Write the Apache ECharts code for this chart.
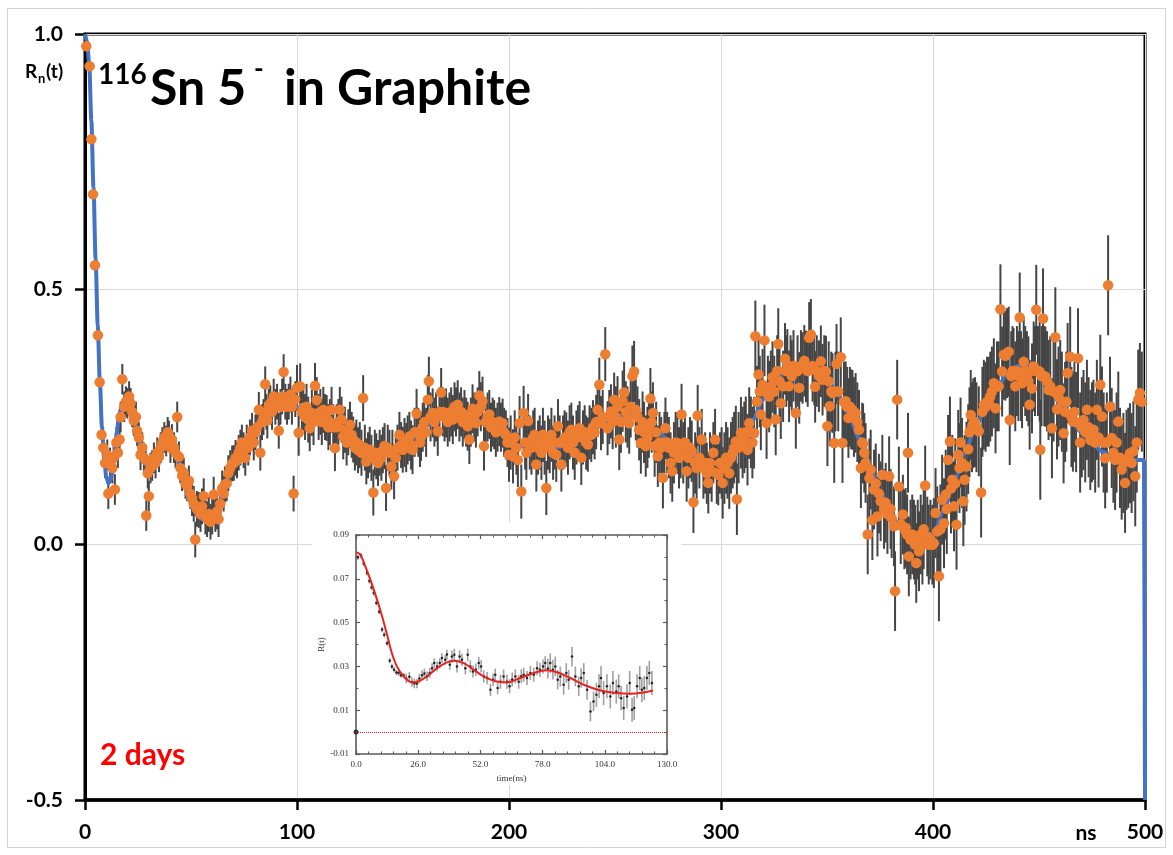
<!DOCTYPE html>
<html>
<head>
<meta charset="utf-8">
<title>116Sn 5- in Graphite</title>
<script src="https://cdn.jsdelivr.net/npm/echarts@6/dist/echarts.min.js"></script>
<style>
html, body { margin: 0; padding: 0; background: #fff; }
#chart { width: 1173px; height: 855px; }
</style>
</head>
<body>
<div id="chart"></div>
<script>
// ---- main plot : Rn(t) vs time (ns) ----
// steep initial drop (no visible error bars)
var rnDrop = [[0.6,0.976],[2.2,0.937],[3.0,0.794],[3.8,0.686],[4.7,0.547],[6.1,0.41],[6.9,0.318],[7.8,0.215],[8.6,0.19]];

var rn0 = [[9.5,0.16],[10.5,0.176],[11,0.10],[11.8,0.16],[12.9,0.15],[13.5,0.17],[14.1,0.108],[14.8,0.2],[15.5,0.18],[16.3,0.206],[16.8,0.25],[17.6,0.324],[18.5,0.27],[19.3,0.28],[20,0.277],[20.8,0.29],[21.5,0.277],[22.3,0.26],[23,0.243],[24,0.25],[24.6,0.223],[25.4,0.21],[26.2,0.176],[27,0.19],[27.8,0.17],[28.6,0.166],[28.9,0.057],[29.6,0.14],[30.1,0.095],[30.9,0.15],[31.7,0.155],[32.5,0.17],[33.3,0.16],[34.1,0.18],[34.9,0.172],[35.7,0.19],[36.5,0.2],[37.4,0.21],[38.3,0.203],[39,0.22],[39.6,0.213],[40.3,0.19],[41,0.206],[42,0.19],[42.7,0.18],[43.5,0.25],[44.3,0.172],[45,0.15],[45.8,0.135],[46.6,0.14],[47.4,0.12],[48.2,0.115],[49,0.125],[49.7,0.1],
  [50.5,0.091],[51.3,0.08],[52,0.01],[52.8,0.07],[53.7,0.068],[54.5,0.06],[55.2,0.075],[56,0.095],[56.8,0.055],[57.6,0.05],[58.4,0.06],[59.2,0.045],[60,0.055],[60.7,0.098],[61.5,0.06],[62.3,0.065],[63,0.05],[63.8,0.08],[64.7,0.11],[65.4,0.1],[66,0.118],[66.8,0.12],[67.6,0.14],[68.5,0.15],[69.4,0.159],[70.2,0.16],[71,0.17],[71.7,0.165],[72.5,0.18],[73.3,0.19],[74,0.2],[74.8,0.185],[75.6,0.17],[76.3,0.2],[77,0.19],[77.8,0.21],[78.8,0.223],[79.6,0.2],[80.4,0.22],[81.2,0.23],[82,0.264],[82.7,0.18],[83.5,0.24],[84.2,0.25],[85,0.314],[85.6,0.26],[86,0.243],[86.7,0.27],[87.4,0.277],[88.2,0.26],[89,0.29],[89.8,0.27],[90.6,0.28],[91.4,0.223],[92.2,0.27],[93,0.29],[93.7,0.338],[94.5,0.28],[95.3,0.27],[96.1,0.28],[96.9,0.294],[97.6,0.27],[98.4,0.10],[99.2,0.285],[100,0.307]];

var rn1 = [[100.8,0.219],[101.5,0.31],[102.3,0.26],[103,0.268],[103.8,0.25],[104.5,0.27],[105.3,0.245],[106,0.228],[107,0.258],[107.8,0.24],[108.5,0.311],[109.3,0.283],[110.2,0.25],[111,0.26],[111.7,0.24],[112.4,0.264],[113.2,0.25],[114,0.248],[114.8,0.23],[115.5,0.24],[116.3,0.264],[117.1,0.23],[117.9,0.189],[118.7,0.23],[119.5,0.24],[120.2,0.264],[121,0.245],[121.8,0.212],[122.6,0.225],[123.4,0.2],[124.2,0.22],[125,0.235],[125.8,0.215],[126.5,0.206],[127.3,0.19],[128,0.2],[128.8,0.185],[129.6,0.195],[130.4,0.18],[131.2,0.287],[132,0.19],[132.7,0.163],[133.5,0.175],[134.3,0.186],[135.1,0.17],[136,0.102],[136.7,0.18],[137.4,0.173],[138.2,0.16],[139,0.18],[139.8,0.17],[140.5,0.185],[141.3,0.193],[142,0.111],[142.8,0.19],[143.6,0.18],[144.5,0.153],[145,0.18],[145.8,0.134],[146.6,0.17],[147.4,0.19],[148.3,0.215],[149.1,0.195],[149.9,0.186],
  [150.7,0.2],[151.5,0.19],[152.2,0.205],[153,0.212],[153.8,0.195],[154.5,0.186],[155.5,0.22],[156.4,0.257],[157.2,0.22],[158,0.2],[158.5,0.212],[159.3,0.23],[160,0.24],[160.9,0.22],[161.7,0.284],[162.2,0.32],[163,0.25],[164,0.258],[164.8,0.24],[165.6,0.25],[166.4,0.222],[167.2,0.26],[168,0.298],[168.8,0.26],[169.6,0.25],[170.3,0.258],[171.1,0.24],[171.9,0.25],[172.7,0.26],[173.5,0.245],[174.3,0.27],[175,0.26],[175.8,0.274],[176.6,0.25],[177.4,0.26],[178.2,0.24],[179,0.255],[179.8,0.24],[180.5,0.232],[181.3,0.206],[182,0.24],[182.8,0.266],[183.6,0.25],[184.4,0.238],[185.2,0.26],[186,0.292],[186.7,0.27],[187.5,0.281],[188.2,0.193],[189,0.24],[189.9,0.25],[190.7,0.255],[191.5,0.23],[192.3,0.24],[193,0.235],[193.8,0.22],[194.6,0.23],[195.4,0.241],[196.2,0.23],[197,0.238],[197.7,0.22],[198.5,0.215],[199.3,0.2],[200,0.176]];

var rn2 = [[200.8,0.2],[201.9,0.173],[202.7,0.21],[203.5,0.19],[204.2,0.166],[205,0.238],[205.8,0.104],[206.9,0.258],[207.6,0.2],[208.2,0.18],[209,0.242],[209.8,0.2],[210.6,0.19],[211.4,0.21],[212.1,0.215],[212.9,0.157],[213.7,0.19],[214.5,0.2],[215.3,0.18],[216,0.215],[216.8,0.19],[217.6,0.111],[218.4,0.2],[219.2,0.193],[220,0.215],[220.8,0.18],[221.5,0.2],[222.3,0.176],[223.1,0.232],[223.9,0.2],[224.7,0.157],[225.5,0.2],[226.2,0.21],[227,0.206],[227.8,0.19],[228.6,0.22],[229.4,0.225],[230.2,0.2],[231,0.18],[231.8,0.21],[232.5,0.22],[233.3,0.228],[234.1,0.17],[234.9,0.21],[235.7,0.22],[236.4,0.2],[237.2,0.196],[238,0.22],[238.8,0.215],[239.6,0.23],[240.4,0.22],[241.1,0.24],[241.8,0.264],[242.6,0.313],[243.4,0.238],[244.2,0.25],[245.4,0.373],[246.5,0.228],[247.3,0.25],[248.1,0.261],[248.9,0.24],[249.6,0.284],
  [250.4,0.25],[251.2,0.27],[252,0.206],[252.8,0.24],[253.6,0.281],[254.3,0.298],[255.1,0.26],[255.9,0.25],[256.7,0.238],[257.4,0.27],[258.2,0.33],[259,0.339],[259.8,0.264],[260.6,0.25],[261.4,0.225],[262.2,0.199],[263,0.24],[263.7,0.22],[264.5,0.193],[265.3,0.21],[266,0.23],[266.7,0.286],[267.3,0.24],[267.9,0.258],[268.7,0.193],[269.4,0.22],[270.2,0.173],[271,0.2],[271.8,0.19],[272.6,0.131],[273.3,0.2],[273.8,0.228],[274.6,0.2],[275.4,0.19],[276.2,0.16],[277,0.144],[277.8,0.18],[278.6,0.2],[279.4,0.199],[280.2,0.17],[281,0.19],[281.4,0.255],[282.2,0.18],[283,0.2],[283.8,0.144],[284.6,0.17],[285.4,0.19],[286.2,0.183],[287,0.083],[287.8,0.16],[288.5,0.15],[289,0.253],[289.8,0.17],[290.9,0.206],[291.7,0.15],[292.5,0.16],[293.3,0.14],[294,0.121],[294.8,0.16],[295.6,0.144],[296.4,0.18],[297.2,0.206],[298,0.14],[298.7,0.137],[299.5,0.16]];

var rn3 = [[300.3,0.16],[300.8,0.121],[301.6,0.15],[302.4,0.17],[303.1,0.16],[303.9,0.14],[304.7,0.17],[305.5,0.18],[306.2,0.19],[307,0.202],[307.5,0.089],[308.3,0.19],[309.4,0.219],[310.2,0.2],[311,0.21],[311.7,0.22],[312.5,0.186],[313.3,0.238],[314.1,0.22],[314.8,0.2],[315.6,0.219],[316.2,0.408],[317,0.28],[317.7,0.333],[318.3,0.3],[318.8,0.255],[319.6,0.313],[320.5,0.40],[321.5,0.238],[322.1,0.3],[322.7,0.29],[323.5,0.31],[324.3,0.328],[325.1,0.3],[325.8,0.245],[326.5,0.34],[327,0.393],[327.6,0.32],[328.2,0.277],[329.3,0.31],[330.2,0.364],[330.8,0.34],[331.3,0.352],[332.1,0.31],[332.8,0.34],[333.4,0.33],[334.2,0.35],[335.3,0.258],[336.1,0.34],[336.9,0.307],[337.7,0.35],[338.5,0.346],[339.3,0.36],[340.1,0.349],[340.9,0.34],[341.6,0.405],[342.4,0.411],[343.2,0.35],[344,0.343],[344.4,0.309],[345.2,0.34],[346.2,0.33],[347.1,0.359],[347.9,0.323],[348.7,0.34],[349.5,0.339],
  [350.2,0.232],[350.8,0.32],[351.3,0.271],[352,0.3],[352.6,0.297],[353.4,0.199],[354,0.3],[354.5,0.354],[355.3,0.3],[356.5,0.367],[357.3,0.199],[358,0.28],[358.8,0.281],[359.5,0.27],[360.1,0.248],[360.8,0.27],[361.4,0.265],[362,0.264],[362.7,0.25],[363.5,0.258],[364.3,0.24],[365.1,0.225],[366,0.15],[366.6,0.2],[367,0.198],[367.6,0.18],[368.2,0.16],[369.2,0.02],[370,0.13],[370.6,0.147],[371.4,0.048],[372.2,0.108],[373,0.12],[373.8,0.055],[374.5,0.1],[375.3,0.085],[376.1,0.137],[376.9,0.07],[377.7,0.082],[378.5,0.06],[379.3,0.134],[380,0.07],[380.5,0.052],[381.6,0.036],[382.1,-0.091],[383.1,0.284],[383.9,0.114],[384.8,0.04],[385.8,0.059],[386.5,0.03],[387.1,0.033],[387.8,0.02],[388.2,0.18],[388.6,-0.023],[389.4,0.01],[390.2,0.02],[391,0.01],[391.6,0.0],[392.1,-0.036],[392.8,0.01],[393.4,-0.013],[394.2,0.02],[395,0.0],[395.6,0.03],[396.3,0.116],[397.3,0.016],[398,0.0],[398.8,0.01],[399.7,0.0]];

var rn4 = [[400.4,0.003],[401.2,0.062],[402,0.026],[402.8,-0.062],[403.5,0.03],[404.3,0.088],[405.2,0.042],[406,0.098],[406.5,0.07],[407.1,0.166],[408,0.202],[408.5,0.11],[409.1,0.127],[409.9,0.075],[410.5,0.12],[411.1,0.039],[411.9,0.176],[412.5,0.15],[413,0.2],[413.7,0.16],[414.3,0.085],[414.9,0.127],[415.8,0.153],[416.6,0.187],[417.2,0.22],[417.8,0.254],[418.4,0.23],[419,0.238],[419.8,0.24],[420.5,0.23],[421.6,0.222],[422.7,0.102],[423.3,0.26],[424,0.274],[424.8,0.27],[425.5,0.28],[426.3,0.28],[427,0.29],[427.8,0.3],[428.7,0.316],[429.5,0.267],[430.2,0.31],[431,0.31],[431.8,0.461],[432.6,0.339],[433.4,0.372],[434.1,0.37],[434.9,0.375],[435.7,0.378],[436.2,0.244],[436.9,0.33],[437.5,0.34],[438,0.336],[438.8,0.31],[439.6,0.34],[440.3,0.33],[440.9,0.445],[441.5,0.33],[442,0.316],[442.8,0.358],[443.5,0.34],[444.3,0.33],[445,0.32],[445.6,0.274],[446.7,0.306],[447.5,0.349],[448.1,0.34],[448.7,0.46],[449.5,0.34],
  [450.3,0.339],[450.6,0.186],[451.2,0.33],[451.9,0.443],[452.5,0.33],[453,0.329],[453.8,0.32],[454.5,0.303],[455.3,0.31],[456.1,0.228],[456.9,0.3],[457.7,0.406],[458.5,0.265],[459.2,0.29],[460,0.303],[460.8,0.28],[461.6,0.218],[462.3,0.26],[462.9,0.28],[463.5,0.336],[464.7,0.368],[465.3,0.25],[466,0.241],[466.7,0.26],[467.5,0.24],[468.4,0.365],[469.4,0.2],[470.2,0.23],[471,0.244],[471.8,0.22],[472.6,0.264],[473.4,0.23],[474.2,0.205],[475,0.22],[475.7,0.225],[476.5,0.2],[477.3,0.264],[478.1,0.21],[478.9,0.313],[479.7,0.251],[480.5,0.2],[481.2,0.169],[482,0.2],[482.6,0.508],[483.5,0.27],[484.3,0.209],[485.1,0.18],[485.9,0.166],[486.6,0.2],[487.4,0.241],[488.2,0.17],[489,0.147],[489.8,0.16],[490.6,0.121],[491.3,0.166],[492.1,0.17],[492.9,0.179],[493.7,0.16],[494.5,0.183],[495.4,0.134],[496.1,0.2],[496.8,0.284],[497.6,0.297],[498.5,0.28]];

// half length of the error bars, one value per 50 ns band
var rnErrBand = [0.03, 0.035, 0.045, 0.048, 0.053, 0.06, 0.07, 0.078, 0.088, 0.098];

// fitted curve (blue)
var rnFit = [[0,1.0],[1,0.985],[2,0.94],[3,0.83],[4,0.70],[5,0.56],[6,0.43],[7,0.32],[8,0.23],[9,0.17],[10,0.135],[11,0.12],[12,0.125],[13,0.145],[14,0.18],[15,0.22],[16,0.25],[17,0.268],[18,0.276],[19.5,0.278],[21,0.27],[23,0.245],[25,0.21],[27,0.175],[29,0.155],[31,0.155],[33,0.165],[35,0.18],[37,0.195],[39,0.205],[41,0.2],[43,0.18],[45,0.15],[47,0.118],[49,0.09],[51,0.07],[53,0.057],[55,0.05],[57,0.048],[59,0.052],[61,0.062],[63,0.078],[65,0.1],[68,0.135],[71,0.165],[74,0.19],[77,0.21],[80,0.23],[83,0.245],[86,0.258],[89,0.268],[92,0.275],[95,0.278],[98,0.276],
  [101,0.268],[105,0.257],[110,0.245],[115,0.235],[120,0.225],[125,0.21],[130,0.195],[135,0.182],[140,0.178],[145,0.183],[150,0.195],[155,0.21],[160,0.23],[165,0.245],[170,0.252],[176,0.255],[181,0.25],[186,0.242],[190,0.232],[195,0.218],[201,0.2],[205,0.193],[210,0.188],[215,0.186],[220,0.187],[225,0.192],[230,0.2],[236,0.213],[241,0.228],[246,0.243],[250,0.25],[255,0.253],[260,0.25],[265,0.238],[270,0.222],[275,0.205],[280,0.19],[285,0.175],[290,0.163],[295,0.158],
  [300,0.16],[305,0.175],[310,0.205],[315,0.245],[320,0.285],[325,0.315],[330,0.337],[335,0.35],[340,0.353],[345,0.345],[350,0.325],[355,0.295],[360,0.258],[365,0.21],[370,0.155],[375,0.105],[380,0.06],[385,0.03],[390,0.012],[395,0.008],[400,0.02],[405,0.065],[410,0.125],[415,0.18],[420,0.23],[425,0.27],[430,0.305],[435,0.335],[440,0.35],[445,0.352],[450,0.338],[455,0.31],[460,0.275],[465,0.245],[470,0.22],[475,0.198],[480,0.182],[485,0.172],[490,0.167],[495,0.166],[499.5,0.166],[500,-0.5]];

// ---- inset : R(t) vs time(ns) ----
var insetData = [[0.8,0.0798],[2.1,0.0806],[3.2,0.077],[4.6,0.0727],[5.6,0.069],[6.5,0.066],[7.4,0.0635],[8.5,0.059],[9.7,0.055],[10.9,0.0468],[11.8,0.0444],[13,0.0406],[14.1,0.0326],[15,0.030],[15.9,0.0285],[16.9,0.0272],[17.8,0.027],[18.8,0.026],[19.9,0.0258],[21,0.0245],[22.3,0.0253],[23.4,0.0229],[24.4,0.0222],[25.5,0.0222],[26.5,0.0245],[27.6,0.026],[28.6,0.0268],[29.7,0.0255],[30.8,0.027],[31.8,0.0292],[32.7,0.0315],[33.9,0.030],[35,0.0315],[35.9,0.0338],[37.3,0.033],[38,0.0354],[39.2,0.0307],[40.1,0.0345],[41.1,0.0353],[42.2,0.030],[43.3,0.0345],[44.3,0.033],[45.7,0.0292],[46.7,0.0353],[47.8,0.030],[48.9,0.0277],[50.1,0.0285],[51.3,0.0315],[52.3,0.030],[53.4,0.0254],[54.8,0.0247],[56.2,0.0193],[57.3,0.0239],[58.2,0.0262],[59.2,0.0201],
  [60.4,0.023],[61.7,0.0254],[63.1,0.023],[64.2,0.0209],[65.3,0.024],[66.6,0.0254],[68,0.023],[69.1,0.0255],[70.1,0.0262],[71.5,0.0247],[72.9,0.027],[74.3,0.0262],[75.7,0.0292],[76.9,0.0285],[78.2,0.030],[79.1,0.0315],[80.2,0.029],[81.2,0.0315],[82.3,0.0285],[83.3,0.030],[84.3,0.0239],[85.4,0.0254],[86.8,0.0216],[87.9,0.027],[88.9,0.0239],[90.3,0.0345],[91.7,0.0254],[93.1,0.0209],[94.1,0.0247],[95.2,0.027],[96.6,0.0193],[98,0.0094],[99.3,0.014],[100.5,0.017],[101.6,0.0209],[102.4,0.0247],[103.5,0.0178],[104.9,0.0209],[106.3,0.0163],[107.4,0.0224],[108.8,0.0185],[109.8,0.0209],[110.8,0.0155],[111.9,0.011],[113.3,0.0163],[114.4,0.0224],[115.4,0.0102],[116.3,0.011],[117.5,0.0209],[118.6,0.0247],[119.5,0.0193],[120.5,0.0201],[121.6,0.0247],[122.6,0.027],[123.7,0.0224]];
// error bar half length, one value per 20 ns band
var insetErrBand = [0.0012, 0.0022, 0.0028, 0.0032, 0.0045, 0.0055, 0.0055];
var insetFit = [[0,0.0822],[1.8,0.081],[3.9,0.0757],[6,0.0696],[8.8,0.0605],[10.9,0.0529],[13,0.0444],[15,0.036],[17.1,0.030],[19.9,0.0255],[23.4,0.0227],[26.2,0.0232],[29.7,0.0254],[33.9,0.0292],[38,0.0318],[40.8,0.0326],[45,0.0315],[49.2,0.0285],[53.4,0.0254],[58.2,0.0232],[63.1,0.0227],[68.7,0.0247],[74.3,0.027],[79.8,0.0282],[84,0.0273],[89.6,0.0247],[95.2,0.0216],[102.1,0.019],[109.1,0.0178],[114.7,0.0175],[120.2,0.0181],[124.1,0.019]];
var insetZero = [[0, 0]];

var mainFont = 'Lato, "Open Sans", sans-serif';
var insetFont = '"Liberation Serif", "DejaVu Serif", serif';

var rnPoints = [].concat(rn0, rn1, rn2, rn3, rn4);
var rnErrors = rnPoints.map(function (p) {
  var e = rnErrBand[Math.min(rnErrBand.length - 1, Math.floor(p[0] / 50))];
  return [p[0], p[1] - e, p[1] + e];
});
var insetErrors = insetData.map(function (p) {
  var e = insetErrBand[Math.floor(p[0] / 20)];
  return [p[0], p[1] - e, p[1] + e];
});

function errorBar(color, width) {
  return function (params, api) {
    var a = api.coord([api.value(0), api.value(1)]);
    var b = api.coord([api.value(0), api.value(2)]);
    return {
      type: 'line',
      shape: { x1: a[0], y1: a[1], x2: b[0], y2: b[1] },
      style: { stroke: color, lineWidth: width }
    };
  };
}

var chart = echarts.init(document.getElementById('chart'));

var insetAxisLine = { show: true, onZero: false, lineStyle: { color: '#5a5a5a', width: 1.6 } };
var insetTick = { show: true, inside: true, length: 4, lineStyle: { color: '#5a5a5a', width: 1.2 } };
var insetMinorX = { show: true, splitNumber: 5, length: 2.5, lineStyle: { color: '#5a5a5a', width: 1 } };
var insetMinorY = { show: true, splitNumber: 2, length: 2.5, lineStyle: { color: '#5a5a5a', width: 1 } };

var option = {
  animation: false,
  backgroundColor: '#fff',
  grid: [
    { left: 85, top: 34, width: 1060, height: 766, show: true, borderColor: '#000', borderWidth: 3 },
    { left: 356, top: 535, width: 311, height: 219, z: 60 }
  ],
  xAxis: [
    {
      gridIndex: 0, type: 'value', min: 0, max: 500, interval: 100,
      axisLine: { show: true, onZero: false, lineStyle: { color: '#000', width: 3.5 } },
      axisTick: { show: true, length: 10, lineStyle: { color: '#000', width: 2.5 } },
      axisLabel: { color: '#000', fontFamily: mainFont, fontWeight: 'bold', fontSize: 21, margin: 22 },
      splitLine: { show: true, lineStyle: { color: '#d9d9d9', width: 1 } }
    },
    {
      gridIndex: 1, type: 'value', min: 0, max: 130, interval: 26, position: 'bottom', z: 60,
      axisLine: insetAxisLine, axisTick: insetTick, minorTick: insetMinorX,
      axisLabel: { color: '#333', fontFamily: insetFont, fontSize: 9, margin: 6,
        formatter: function (v) { return v.toFixed(1); } },
      splitLine: { show: false },
      name: 'time(ns)', nameLocation: 'middle', nameGap: 20,
      nameTextStyle: { color: '#333', fontFamily: insetFont, fontSize: 9 }
    },
    {
      gridIndex: 1, type: 'value', min: 0, max: 130, interval: 26, position: 'top', z: 60,
      axisLine: insetAxisLine, axisTick: insetTick, minorTick: insetMinorX,
      axisLabel: { show: false }, splitLine: { show: false }
    }
  ],
  yAxis: [
    {
      gridIndex: 0, type: 'value', min: -0.5, max: 1, interval: 0.5,
      axisLine: { show: true, onZero: false, lineStyle: { color: '#000', width: 3 } },
      axisTick: { show: true, length: 10, lineStyle: { color: '#000', width: 2.5 } },
      axisLabel: { color: '#000', fontFamily: mainFont, fontWeight: 'bold', fontSize: 21, margin: 22,
        formatter: function (v) { return v.toFixed(1); } },
      splitLine: { show: true, lineStyle: { color: '#d9d9d9', width: 1 } }
    },
    {
      gridIndex: 1, type: 'value', min: -0.01, max: 0.09, interval: 0.02, position: 'left', z: 60,
      axisLine: insetAxisLine, axisTick: insetTick, minorTick: insetMinorY,
      axisLabel: { color: '#333', fontFamily: insetFont, fontSize: 9, margin: 7,
        formatter: function (v) { return v.toFixed(2); } },
      splitLine: { show: false },
      name: 'R(t)', nameLocation: 'middle', nameGap: 28, nameRotate: 90,
      nameTextStyle: { color: '#333', fontFamily: insetFont, fontSize: 9 }
    },
    {
      gridIndex: 1, type: 'value', min: -0.01, max: 0.09, interval: 0.02, position: 'right', z: 60,
      axisLine: insetAxisLine, axisTick: insetTick, minorTick: insetMinorY,
      axisLabel: { show: false }, splitLine: { show: false }
    }
  ],
  graphic: [
    { type: 'rect', z: 1, shape: { x: 7.5, y: 8.5, width: 1158, height: 839 },
      style: { fill: 'none', stroke: '#d4d4d4', lineWidth: 1 } },
    { type: 'rect', z: 50, shape: { x: 312, y: 523, width: 369, height: 262 },
      style: { fill: '#fff' } },
    { type: 'text', z: 100, style: { x: 98, y: 75, text: '116', font: 'bold 28px ' + mainFont, fill: '#000', verticalAlign: 'middle' } },
    { type: 'text', z: 100, style: { x: 150, y: 89, text: 'Sn 5', font: 'bold 50px ' + mainFont, fill: '#000', verticalAlign: 'middle' } },
    { type: 'text', z: 100, style: { x: 254, y: 70, text: '-', font: 'bold 26px ' + mainFont, fill: '#000', verticalAlign: 'middle' } },
    { type: 'text', z: 100, style: { x: 284, y: 89, text: 'in Graphite', font: 'bold 50px ' + mainFont, fill: '#000', verticalAlign: 'middle' } },
    { type: 'text', z: 100, style: { x: 25, y: 72, text: 'R', font: 'bold 19px ' + mainFont, fill: '#000', verticalAlign: 'middle' } },
    { type: 'text', z: 100, style: { x: 38, y: 79, text: 'n', font: 'bold 13px ' + mainFont, fill: '#000', verticalAlign: 'middle' } },
    { type: 'text', z: 100, style: { x: 46, y: 72, text: '(t)', font: 'bold 19px ' + mainFont, fill: '#000', verticalAlign: 'middle' } },
    { type: 'text', z: 100, style: { x: 100, y: 755, text: '2 days', font: 'bold 30px ' + mainFont, fill: '#ff0000', verticalAlign: 'middle' } },
    { type: 'text', z: 100, style: { x: 1086, y: 833, text: 'ns', font: 'bold 21px ' + mainFont, fill: '#000', align: 'center', verticalAlign: 'middle' } }
  ],
  series: [
    {
      name: 'errors', type: 'custom', xAxisIndex: 0, yAxisIndex: 0, z: 2,
      renderItem: errorBar('#454545', 2), encode: { x: 0, y: [1, 2] }, data: rnErrors, silent: true
    },
    {
      name: 'fit', type: 'line', xAxisIndex: 0, yAxisIndex: 0, z: 3,
      data: rnFit, showSymbol: false, smooth: 0.3, smoothMonotone: 'x',
      lineStyle: { color: '#4472C4', width: 4 }
    },
    {
      name: 'Rn(t)', type: 'scatter', xAxisIndex: 0, yAxisIndex: 0, z: 4,
      data: rnDrop.concat(rnPoints), symbolSize: 10.5,
      itemStyle: { color: '#ED7D31', opacity: 1 }
    },
    {
      name: 'inset errors', type: 'custom', xAxisIndex: 1, yAxisIndex: 1, z: 61,
      renderItem: errorBar('#a0a0a0', 1.6), encode: { x: 0, y: [1, 2] }, data: insetErrors, silent: true
    },
    {
      name: 'inset data', type: 'scatter', xAxisIndex: 1, yAxisIndex: 1, z: 62,
      data: insetData, symbolSize: 2.5, itemStyle: { color: '#222', opacity: 1 },
      markLine: {
        z: 65, silent: true, symbol: 'none', label: { show: false },
        lineStyle: { color: '#ff2020', type: 'dotted', width: 1 },
        data: [{ yAxis: 0 }]
      }
    },
    {
      name: 'inset fit', type: 'line', xAxisIndex: 1, yAxisIndex: 1, z: 63,
      data: insetFit, showSymbol: false, smooth: 0.4,
      lineStyle: { color: '#e8231f', width: 2 }
    },
    {
      name: 'inset zero', type: 'scatter', xAxisIndex: 1, yAxisIndex: 1, z: 64,
      data: insetZero, symbolSize: 5, itemStyle: { color: '#333', opacity: 1 }
    }
  ]
};

chart.setOption(option);
</script>
</body>
</html>
